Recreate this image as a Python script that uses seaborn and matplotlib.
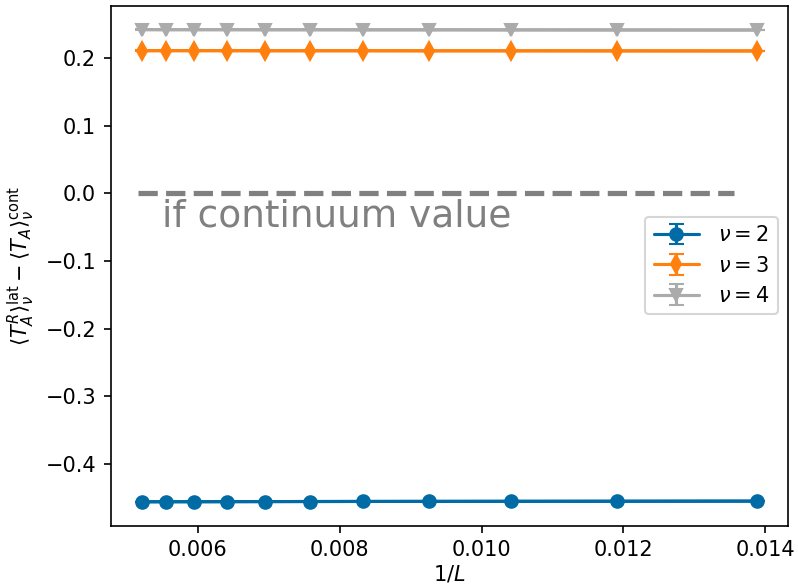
import numpy as np
import matplotlib
matplotlib.use("Agg")
import matplotlib.pyplot as plt
import seaborn as sns
import pandas as pd

L_values = [72, 84, 96, 108, 120, 132, 144, 156, 168, 180, 192]
inv_L = [1.0 / L for L in L_values]
nu2 = [-0.4546, -0.4548, -0.4549, -0.4550, -0.4551, -0.4552, -0.4553, -0.4554, -0.4555, -0.4555, -0.4556]
nu3 = [0.2102, 0.2103, 0.2104, 0.2104, 0.2105, 0.2105, 0.2105, 0.2106, 0.2106, 0.2106, 0.2106]
nu4 = [0.2411, 0.2412, 0.2413, 0.2414, 0.2414, 0.2415, 0.2415, 0.2416, 0.2416, 0.2416, 0.2417]
err = [0.0004] * len(L_values)
labels = [r"$\nu = 2$", r"$\nu = 3$", r"$\nu = 4$"]
colors = ["#006BA4", "#FF800E", "#ABABAB"]
markers = ["o", "d", "v"]

sns.set_style("ticks")
plt.rcParams.update({
    "font.family": ["DejaVu Sans"],
    "axes.edgecolor": "black", "text.color": "black", "axes.labelcolor": "black",
    "xtick.color": "black", "ytick.color": "black",
    "axes.linewidth": 0.8, "xtick.major.width": 0.8, "ytick.major.width": 0.8,
    "xtick.major.size": 3.5, "ytick.major.size": 3.5,
    "font.size": 10, "xtick.labelsize": 10, "ytick.labelsize": 10,
    "axes.labelsize": 10, "legend.fontsize": 10,
})

W, H = 798, 586
fig = plt.figure(figsize=(W / 150, H / 150), dpi=150)
ax = fig.add_axes([110.7 / W, 1 - 525.7 / H, (788.3 - 110.7) / W, (525.7 - 5.7) / H])

df = pd.DataFrame({"x": inv_L * 3, "y": nu2 + nu3 + nu4,
                   "nu": [labels[0]] * 11 + [labels[1]] * 11 + [labels[2]] * 11})
sns.lineplot(data=df, x="x", y="y", hue="nu", palette=colors, ax=ax, legend=False,
             linewidth=1.5, zorder=2)
for ys, c, m, lab in zip([nu2, nu3, nu4], colors, markers, labels):
    ax.errorbar(inv_L, ys, yerr=err, color=c, marker=m, markersize=6, capsize=3.6,
                linewidth=1.5, label=lab, zorder=3)

ax.axhline(0.0, xmin=0.04, xmax=0.92, color="grey", linestyle="--", linewidth=2.5)
ax.text(0.0055, -0.035, "if continuum value", color="grey", fontsize=18,
        va="center", ha="left")

ax.set_xlabel(r"$1/L$", labelpad=1.5)
ax.set_ylabel(r"$\langle T_A^R\rangle_\nu^{\rm lat} - \langle T_A\rangle_\nu^{\rm cont}$")
ax.set_xticks([0.006, 0.008, 0.010, 0.012, 0.014])
ax.set_yticks([-0.4, -0.3, -0.2, -0.1, 0.0, 0.1, 0.2])
ax.legend(loc="center right", handlelength=2.2, handletextpad=0.9)

fig.savefig("out.png", dpi=150)
